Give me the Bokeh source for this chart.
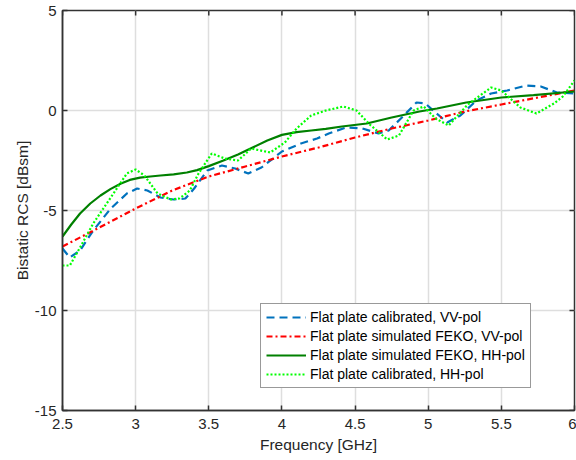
import math
from bokeh.plotting import figure
from bokeh.models import Range1d, Legend, LegendItem, FixedTicker
from bokeh.embed import file_html
from bokeh.resources import INLINE

# Flat plate calibrated, VV-pol (blue dashed)
f_vv_cal = [2.5, 2.55, 2.62, 2.71, 2.83, 2.94, 3.01, 3.08, 3.17, 3.26, 3.34, 3.4, 3.49, 3.59, 3.68,
            3.77, 3.86, 4.0, 4.13, 4.24, 4.32, 4.44, 4.55, 4.66, 4.73, 4.82, 4.92, 4.98, 5.05, 5.13,
            5.22, 5.33, 5.43, 5.54, 5.67, 5.77, 5.88, 6.0]
v_vv_cal = [-6.9, -7.35, -7.0, -6.0, -4.9, -4.15, -3.9, -4.0, -4.35, -4.45, -4.4, -3.9, -3.0, -2.75, -2.9,
            -3.15, -2.85, -2.05, -1.65, -1.4, -1.15, -0.85, -0.9, -1.15, -1.0, -0.35, 0.4, 0.35, -0.1, -0.6,
            -0.25, 0.5, 0.85, 1.0, 1.25, 1.2, 0.9, 0.85]

# Flat plate simulated FEKO, VV-pol (red dash-dot)
f_vv_sim = [2.5, 2.7, 3.0, 3.25, 3.5, 3.75, 4.0, 4.25, 4.5, 4.75, 5.0, 5.25, 5.5, 5.75, 6.0]
v_vv_sim = [-6.8, -6.05, -4.9, -4.0, -3.3, -2.8, -2.3, -1.85, -1.35, -0.9, -0.5, -0.05, 0.3, 0.65, 1.0]

# Flat plate simulated FEKO, HH-pol (dark green solid)
f_hh_sim = [2.5, 2.56, 2.62, 2.69, 2.76, 2.83, 2.9, 2.96, 3.03, 3.1, 3.17, 3.26, 3.35, 3.42, 3.5,
            3.6, 3.7, 3.8, 3.9, 4.0, 4.1, 4.2, 4.3, 4.41, 4.58, 4.75, 4.94, 5.06, 5.26, 5.5, 5.72, 6.0]
v_hh_sim = [-6.3, -5.7, -5.15, -4.65, -4.25, -3.92, -3.65, -3.47, -3.36, -3.3, -3.25, -3.19, -3.1, -2.98, -2.78,
            -2.5, -2.2, -1.85, -1.5, -1.22, -1.08, -1.0, -0.92, -0.8, -0.65, -0.35, -0.05, 0.1, 0.4, 0.65, 0.77, 0.95]

# Flat plate calibrated, HH-pol (bright green dotted)
f_hh_cal = [2.5, 2.55, 2.62, 2.71, 2.83, 2.94, 3.0, 3.06, 3.15, 3.24, 3.3, 3.37, 3.43, 3.52, 3.61,
            3.7, 3.79, 3.92, 4.02, 4.1, 4.2, 4.3, 4.42, 4.51, 4.6, 4.72, 4.8, 4.9, 4.97, 5.05,
            5.14, 5.27, 5.43, 5.5, 5.63, 5.74, 5.86, 5.92, 6.0]
v_hh_cal = [-7.75, -7.75, -6.85, -5.65, -4.35, -3.15, -2.95, -3.25, -4.15, -4.45, -4.4, -4.0, -3.15, -2.15, -2.4,
            -2.5, -1.9, -2.1, -1.6, -0.9, -0.25, 0.0, 0.2, 0.0, -0.7, -1.45, -1.25, 0.0, 0.2, -0.4,
            -0.75, 0.3, 1.15, 1.0, 0.15, -0.15, 0.35, 0.7, 1.5]

x_ticks = [2.5, 3, 3.5, 4, 4.5, 5, 5.5, 6]
y_ticks = [-15, -10, -5, 0, 5]
y_tick_labels = ["-15", "-10", "-5", "0", "5"]

FONT = "Liberation Sans"
TXT = "#262626"
AX = "#333333"

x_min, x_max = x_ticks[0], x_ticks[-1]
y_min, y_max = y_ticks[0], y_ticks[-1]

p = figure(width=576, height=460, output_backend="svg", toolbar_location=None,
           x_range=Range1d(x_min, x_max), y_range=Range1d(y_min, y_max),
           min_border_left=62, min_border_right=2, min_border_top=10, min_border_bottom=50)
p.background_fill_color = "white"
p.border_fill_color = "white"
p.outline_line_color = AX
p.outline_line_width = 1.5

for ax in (p.xaxis[0], p.yaxis[0]):
    ax.major_tick_in = 5
    ax.major_tick_out = 0
    ax.minor_tick_line_color = None
    ax.axis_line_color = AX
    ax.axis_line_width = 1.5
    ax.major_tick_line_color = AX
    ax.major_tick_line_width = 1.5
    ax.major_label_text_font = FONT
    ax.major_label_text_font_size = "15px"
    ax.major_label_text_color = TXT
    ax.axis_label_text_font = FONT
    ax.axis_label_text_font_size = "15.5px"
    ax.axis_label_text_font_style = "normal"
    ax.axis_label_text_color = TXT

p.xaxis[0].ticker = FixedTicker(ticks=x_ticks)
p.yaxis[0].ticker = FixedTicker(ticks=y_ticks)
p.yaxis[0].major_label_overrides = {t: s for t, s in zip(y_ticks, y_tick_labels)}
p.xaxis[0].axis_label = "Frequency [GHz]"
p.yaxis[0].axis_label = "Bistatic RCS [dBsm]"
p.xaxis[0].major_label_standoff = 8
p.xaxis[0].axis_label_standoff = 4
p.yaxis[0].major_label_standoff = 6
p.yaxis[0].axis_label_standoff = 1

# inward tick marks on the top and right edges of the box
p.ray(x=x_ticks, y=[y_max] * len(x_ticks), length=5, length_units="screen",
      angle=-math.pi / 2, line_color=AX, line_width=1.5)
p.ray(x=[x_max] * len(y_ticks), y=y_ticks, length=5, length_units="screen",
      angle=math.pi, line_color=AX, line_width=1.5)

p.xgrid.ticker = FixedTicker(ticks=x_ticks)
p.ygrid.ticker = FixedTicker(ticks=y_ticks)
p.grid.grid_line_color = "#dedede"
p.grid.grid_line_width = 1.5

r1 = p.line(f_vv_cal, v_vv_cal, line_color="#0072BD", line_width=2.2, line_dash="8 5")
r2 = p.line(f_vv_sim, v_vv_sim, line_color="#FF0000", line_width=2.2, line_dash="6 3 2 3")
r3 = p.line(f_hh_sim, v_hh_sim, line_color="#008000", line_width=2.2)
r4 = p.line(f_hh_cal, v_hh_cal, line_color="#00FF00", line_width=2.2, line_dash="2 2")

legend = Legend(items=[
    LegendItem(label="Flat plate calibrated, VV-pol", renderers=[r1]),
    LegendItem(label="Flat plate simulated FEKO, VV-pol", renderers=[r2]),
    LegendItem(label="Flat plate simulated FEKO, HH-pol", renderers=[r3]),
    LegendItem(label="Flat plate calibrated, HH-pol", renderers=[r4]),
], location=(198, 22))
legend.label_text_font = FONT
legend.label_text_font_size = "14px"
legend.label_text_color = "#000000"
legend.border_line_color = AX
legend.border_line_width = 1.5
legend.background_fill_color = "white"
legend.background_fill_alpha = 1.0
legend.glyph_width = 40
legend.glyph_height = 16
legend.label_standoff = 4
legend.spacing = 3
legend.padding = 5
legend.margin = 0
legend.label_height = 16
p.add_layout(legend, "center")

open("out.html", "w").write(file_html(p, INLINE))
